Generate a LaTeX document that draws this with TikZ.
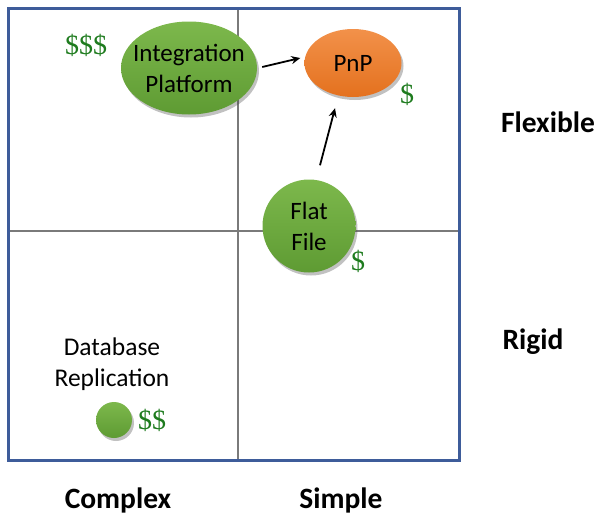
\documentclass[tikz,border=0pt]{standalone}
\usepackage{fontspec}
\setmainfont{Carlito}
\newfontfamily\dollarfont{Liberation Serif}
\usetikzlibrary{shadows,arrows.meta,calc,shapes.geometric}
\definecolor{frameblue}{HTML}{3E5C9A}
\definecolor{gridgray}{HTML}{7A7A7A}
\definecolor{leafhi}{HTML}{7DB84C}
\definecolor{leaflo}{HTML}{5E9B33}
\definecolor{orangehi}{HTML}{F2914A}
\definecolor{orangelo}{HTML}{E4711E}
\definecolor{moneygreen}{HTML}{1E7B1E}
\tikzset{
  x=1pt, y=-1pt,
  blobtext/.style={font=\fontsize{25}{31}\selectfont, align=center, inner sep=0pt, text=black},
  blob/.style={ellipse, draw=none, inner sep=0pt,
    drop shadow={shadow xshift=2pt, shadow yshift=-3pt, opacity=0.35, fill=black!70}},
  greenblob/.style={blob, top color=leafhi, bottom color=leaflo},
  orangeblob/.style={blob, top color=orangehi, bottom color=orangelo},
  money/.style={text=moneygreen, font=\dollarfont\fontsize{28}{28}\selectfont, inner sep=0pt},
  caption/.style={font=\fontsize{25.5}{31}\selectfont, align=center, inner sep=0pt},
  axislabel/.style={font=\bfseries\fontsize{29.5}{32}\selectfont, inner sep=0pt},
  link/.style={-{Stealth[length=9pt,width=8pt]}, line width=1.8pt, black}
}
\begin{document}
\begin{tikzpicture}
\useasboundingbox (0,0) rectangle (595,514);
% quadrant frame
\coordinate (tl) at (8,8);
\coordinate (br) at (459,460);
\coordinate (mt) at (238,8);
\coordinate (mb) at (238,460);
\coordinate (ml) at (8,231);
\coordinate (mr) at (459,231);
\draw[gridgray, line width=1.2pt] (mt) -- (mb) (ml) -- (mr);
\draw[frameblue, line width=3pt] (tl) rectangle (br);
% approaches
\node[greenblob, minimum width=136pt, minimum height=93pt,
      label={[blobtext]center:Integration\\Platform}] (integ) at (189,68) {};
\node[orangeblob, minimum width=97pt, minimum height=68pt,
      label={[blobtext]center:PnP}] (pnp) at (353,63) {};
\node[greenblob, circle, minimum size=93pt,
      label={[blobtext]center:Flat\\File}] (flat) at (309,226) {};
\node[greenblob, circle, minimum size=36pt] (dbdot) at (114,420) {};
\node[caption] (dbtext) at (112,364) {Database\\Replication};
% costs
\node[money] (c1) at (86,45) {\$\$\$};
\node[money] (c2) at (407,94) {\$};
\node[money] (c3) at (358,261) {\$};
\node[money] (c4) at (152,420) {\$\$};
% migration paths
\coordinate (a1) at ($(integ.east)+(5,-1)$);
\coordinate (b1) at ($(pnp.west |- 0,58)+(-4,0)$);
\draw[link] (a1) -- (b1);
\coordinate (a2) at ($(flat.north)+(11,-14)$);
\coordinate (b2) at ($(pnp.south)+(-18,11)$);
\draw[link] (a2) -- (b2);
% axis labels
\node[axislabel] (flex) at (548,122) {Flexible};
\node[axislabel] (rigid) at (533,342) {Rigid};
\node[axislabel] (cplx) at (118,500) {Complex};
\node[axislabel] (simp) at (341,500) {Simple};
\end{tikzpicture}
\end{document}
